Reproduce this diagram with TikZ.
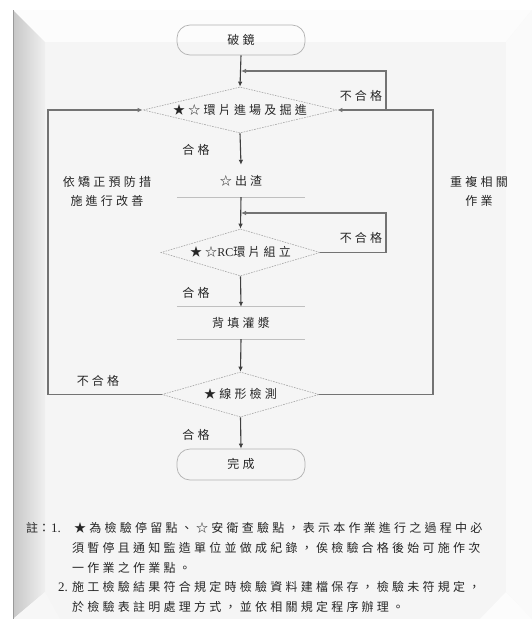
\documentclass[tikz,border=0pt]{standalone}
\usepackage{fontspec}
\setmainfont{Liberation Serif}
\newfontfamily\cjk[LetterSpace=27]{Noto Sans CJK TC}
\newfontfamily\latinrm{Liberation Serif}
\usetikzlibrary{shapes.geometric,arrows.meta}
\newcommand\zbox[1]{\smash{\makebox[0pt]{\raisebox{-4.3pt}{#1}}}}
\tikzset{
  txt/.style={font=\cjk\fontsize{12}{19}\selectfont, text=black!85, inner sep=0pt},
  term/.style={txt, draw=black!30, line width=0.7pt, rounded corners=13pt, minimum width=128pt, minimum height=30pt},
  dia/.style={txt, diamond, draw=black!35, dash pattern=on 1.6pt off 1.1pt, line width=0.6pt},
  proc/.style={txt, minimum width=128pt, minimum height=32pt},
  hline/.style={draw=black!25, line width=0.7pt},
  flow/.style={draw=black!75, line width=1.1pt, -{Latex[length=5pt,width=4.6pt]}},
  loopline/.style={draw=black!55, line width=1.1pt},
  lbl/.style={txt, align=center},
  num/.style={anchor=east, font=\latinrm\fontsize{13}{15}\selectfont, text=black!85, inner sep=0pt},
}
\begin{document}
\begin{tikzpicture}[x=1pt,y=-1pt]
\useasboundingbox (0,0) rectangle (532,619);
\fill[white] (0,0) rectangle (532,619);
% page background
\fill[black!4] (13,10) rectangle (532,619);
\fill[black!1] (13,10) -- (532,10) -- (506,42) -- (45,42) -- cycle;
\fill[black!2] (532,10) -- (532,619) -- (506,592) -- (506,42) -- cycle;
\fill[black!1] (506,592) -- (532,619) -- (480,619) -- cycle;
\shade[left color=black!22, right color=black!6] (13,10) -- (45,42) -- (45,592) -- (13,619) -- cycle;
\fill[black!3] (45,592) -- (13,619) -- (60,619) -- cycle;
\draw[black!40, line width=1.4pt] (13.7,10) -- (13.7,619);
% nodes
\node[term] (start) at (241,40) {\zbox{破鏡}};
\node[dia, minimum width=194pt, minimum height=46pt] (d1) at (240,110) {\zbox{★☆環片進場及掘進}};
\node[proc] (p1) at (241,181) {\zbox{☆出渣}};
\node[dia, minimum width=159pt, minimum height=47pt] (d2) at (240.5,252.5) {\zbox{★☆{\latinrm RC}環片組立}};
\node[proc] (p2) at (241,323) {\zbox{背填灌漿}};
\node[dia, minimum width=157pt, minimum height=45pt] (d3) at (240.5,394.5) {\zbox{★線形檢測}};
\node[term, minimum height=31pt] (end) at (241,464.5) {\zbox{完成}};
% process lines
\draw[hline] (p1.south west) -- (p1.south east);
\draw[hline] (p2.north west) -- (p2.north east);
\draw[hline] (p2.south west) -- (p2.south east);
% loop coordinates
\coordinate (j1) at (386,110);
\coordinate (m1) at (241,71);
\coordinate (j2) at (386,252.5);
\coordinate (m2) at (241,213);
\coordinate (r3) at (433,394.5);
\coordinate (r1) at (433,110);
\coordinate (l3) at (48,394.5);
\coordinate (l1) at (48,110);
% main flow
\draw[flow] (start.south) -- (d1.north);
\draw[flow] (d1.south) -- (p1.north);
\draw[flow] (p1.south) -- (d2.north);
\draw[flow] (d2.south) -- (p2.north);
\draw[flow] (p2.south) -- (d3.north);
\draw[flow] (d3.south) -- (end.north);
% loops
\draw[loopline, -{Latex[length=5pt,width=4.6pt]}] (j1) |- (m1);
\draw[loopline, -{Latex[length=5pt,width=4.6pt]}] (d3.east) -- (r3) -- (r1) -- (d1.east);
\draw[loopline, -{Latex[length=5pt,width=4.6pt]}] (d3.west) -- (l3) -- (l1) -- (d1.west);
\draw[loopline, -{Latex[length=5pt,width=4.6pt]}] (d2.east) -- (j2) |- (m2);
% labels
\node[lbl] (ok1) at (196,150) {合格};
\node[lbl] (ng1) at (361,96) {不合格};
\node[lbl] (ok2) at (196,293) {合格};
\node[lbl] (ng2) at (361,238) {不合格};
\node[lbl] (ng3) at (98,381) {不合格};
\node[lbl] (ok3) at (196,435) {合格};
\node[lbl] (left) at (107,191) {依矯正預防措\\施進行改善};
\node[lbl] (right) at (479,191) {重複相關\\作業};
% notes
\node[txt, anchor=west, font=\cjk\addfontfeature{LetterSpace=0}\fontsize{12}{19}\selectfont] (n0) at (26,528) {註：};
\node[num] (n1) at (61,528) {1.};
\node[txt, anchor=west] (t1) at (74,528) {★為檢驗停留點、☆安衛查驗點，表示本作業進行之過程中必};
\node[txt, anchor=west] (t2) at (72,548) {須暫停且通知監造單位並做成紀錄，俟檢驗合格後始可施作次};
\node[txt, anchor=west] (t3) at (72,568) {一作業之作業點。};
\node[num] (n2) at (68,587) {2.};
\node[txt, anchor=west] (t4) at (72,587) {施工檢驗結果符合規定時檢驗資料建檔保存，檢驗未符規定，};
\node[txt, anchor=west] (t5) at (72,607) {於檢驗表註明處理方式，並依相關規定程序辦理。};
\end{tikzpicture}
\end{document}
